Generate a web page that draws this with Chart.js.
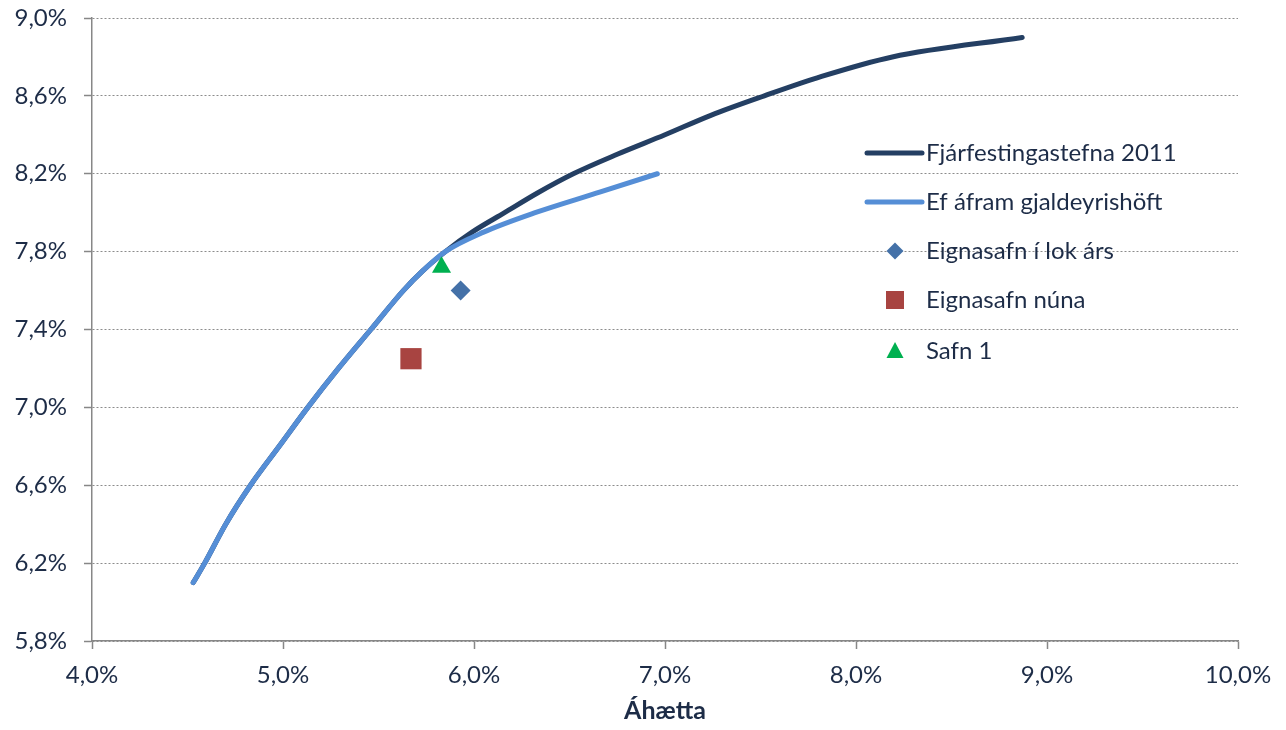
<!DOCTYPE html>
<html>
<head>
<meta charset="utf-8">
<script src="https://cdn.jsdelivr.net/npm/chart.js@4.4.1/dist/chart.umd.min.js"></script>
<style>
  html, body { margin: 0; padding: 0; background: #fff; }
  #wrap { width: 1286px; height: 730px; }
</style>
</head>
<body>
<div id="wrap"><canvas id="myChart" width="1286" height="730"></canvas></div>
<script>
// data (risk % / return %)
const riskPolicy = [4.53, 4.59, 4.70, 4.83, 4.98, 5.13, 5.29, 5.46, 5.63, 5.73, 5.85, 5.99, 6.16, 6.33, 6.52, 6.75, 7.00, 7.24, 7.52, 7.82, 8.19, 8.87];
const returnPolicy = [6.10, 6.20, 6.40, 6.60, 6.80, 7.00, 7.20, 7.40, 7.60, 7.70, 7.80, 7.90, 8.00, 8.10, 8.20, 8.30, 8.40, 8.50, 8.60, 8.70, 8.80, 8.90];
const riskCapital = [4.53, 4.59, 4.70, 4.83, 4.98, 5.13, 5.29, 5.46, 5.63, 5.73, 5.85, 6.05, 6.32, 6.64, 6.96];
const returnCapital = [6.10, 6.20, 6.40, 6.60, 6.80, 7.00, 7.20, 7.40, 7.60, 7.70, 7.80, 7.90, 8.00, 8.10, 8.20];
const portfolioYearEnd = [5.93, 7.60];
const portfolioNow = [5.67, 7.25];
const fund1 = [5.83, 7.72];

const seriesNames = ['Fjárfestingastefna 2011', 'Ef áfram gjaldeyrishöft', 'Eignasafn í lok árs', 'Eignasafn núna', 'Safn 1'];
const xTicks = [4, 5, 6, 7, 8, 9, 10];
const yTicks = [5.8, 6.2, 6.6, 7.0, 7.4, 7.8, 8.2, 8.6, 9.0];

const toPoints = (xs, ys) => xs.map((x, i) => ({ x: x, y: ys[i] }));
const pct = v => v.toFixed(1).replace('.', ',') + '%';

const textColor = '#1d2c47';
const fontFam = 'Lato, "Open Sans", sans-serif';
const fontSize = 24;

// legend drawn inside the plot, like the excel one
const legendPlugin = {
  id: 'insideLegend',
  afterDraw(chart) {
    const ctx = chart.ctx;
    const x0 = 867, x1 = 922, tx = 926;
    const rows = [153, 202, 251, 300, 351];
    ctx.save();
    ctx.font = fontSize + 'px ' + fontFam;
    ctx.textBaseline = 'middle';
    chart.data.datasets.forEach((ds, i) => {
      const y = rows[i];
      if (ds.showLine) {
        ctx.beginPath();
        ctx.strokeStyle = ds.borderColor;
        ctx.lineWidth = 5;
        ctx.lineCap = 'round';
        ctx.moveTo(x0, y);
        ctx.lineTo(x1, y);
        ctx.stroke();
      } else {
        const cx = (x0 + x1) / 2 + 0.5;
        ctx.fillStyle = ds.backgroundColor;
        ctx.beginPath();
        if (ds.pointStyle === 'rectRot') {
          ctx.moveTo(cx, y - 8.5); ctx.lineTo(cx + 8.5, y); ctx.lineTo(cx, y + 8.5); ctx.lineTo(cx - 8.5, y);
        } else if (ds.pointStyle === 'rect') {
          ctx.rect(cx - 9, y - 9, 18, 18);
        } else {
          ctx.moveTo(cx, y - 9); ctx.lineTo(cx + 8.5, y + 7); ctx.lineTo(cx - 8.5, y + 7);
        }
        ctx.closePath();
        ctx.fill();
      }
      ctx.fillStyle = textColor;
      ctx.fillText(ds.label, tx, y);
    });
    ctx.restore();
  }
};

const ctx1 = document.getElementById('myChart').getContext('2d');
const myChart = new Chart(ctx1, {
  type: 'scatter',
  data: {
    datasets: [
      {
        label: seriesNames[0],
        data: toPoints(riskPolicy, returnPolicy),
        showLine: true,
        borderColor: '#243f63',
        backgroundColor: '#243f63',
        borderWidth: 5,
        pointRadius: 0,
        cubicInterpolationMode: 'monotone',
        borderCapStyle: 'round',
        borderJoinStyle: 'round',
        order: 3,
      },
      {
        label: seriesNames[1],
        data: toPoints(riskCapital, returnCapital),
        showLine: true,
        borderColor: '#558ed6',
        backgroundColor: '#558ed6',
        borderWidth: 5,
        pointRadius: 0,
        cubicInterpolationMode: 'monotone',
        borderCapStyle: 'round',
        borderJoinStyle: 'round',
        order: 2,
      },
      {
        label: seriesNames[2],
        data: [{ x: portfolioYearEnd[0], y: portfolioYearEnd[1] }],
        showLine: false,
        pointStyle: 'rectRot',
        pointRadius: 10,
        backgroundColor: '#4471a8',
        borderColor: '#4471a8',
        borderWidth: 0,
        order: 1,
      },
      {
        label: seriesNames[3],
        data: [{ x: portfolioNow[0], y: portfolioNow[1] }],
        showLine: false,
        pointStyle: 'rect',
        pointRadius: 15,
        backgroundColor: '#a84441',
        borderColor: '#a84441',
        borderWidth: 0,
        order: 1,
      },
      {
        label: seriesNames[4],
        data: [{ x: fund1[0], y: fund1[1] }],
        showLine: false,
        pointStyle: 'triangle',
        pointRadius: 11,
        backgroundColor: '#00b050',
        borderColor: '#00b050',
        borderWidth: 0,
        order: 0,
      },
    ],
  },
  options: {
    responsive: false,
    animation: false,
    layout: { padding: { top: 18, right: 48, left: 0, bottom: 0 } },
    scales: {
      x: {
        type: 'linear',
        min: 4,
        max: 10,
        afterFit: s => { s.height = 89; s.paddingLeft = 0; s.paddingRight = 0; },
        afterBuildTicks: s => { s.ticks = xTicks.map(v => ({ value: v })); },
        ticks: {
          callback: v => pct(v),
          color: textColor,
          font: { family: fontFam, size: fontSize },
          padding: 12,
          maxRotation: 0,
        },
        grid: { drawOnChartArea: false, drawTicks: true, tickLength: 8, tickColor: '#878787', tickWidth: 1.5 },
        border: { color: '#878787', width: 1.5 },
        title: {
          display: true,
          text: 'Áhætta',
          color: textColor,
          font: { family: fontFam, size: 25, weight: 'bold' },
          padding: { top: 4 },
        },
      },
      y: {
        type: 'linear',
        min: 5.8,
        max: 9.0,
        afterFit: s => { s.width = 92; s.paddingTop = 0; s.paddingBottom = 0; },
        afterBuildTicks: s => { s.ticks = yTicks.map(v => ({ value: v })); },
        ticks: {
          callback: v => pct(v),
          color: textColor,
          font: { family: fontFam, size: fontSize },
          padding: 17,
        },
        grid: {
          color: '#8c8c8c',
          lineWidth: 1,
          tickLength: 8,
          tickColor: '#878787',
          tickWidth: 1.5,
          tickBorderDash: [],
        },
        border: { color: '#878787', width: 1.5, dash: [2, 2] },
      },
    },
    plugins: {
      legend: { display: false },
      tooltip: { enabled: false },
    },
  },
  plugins: [legendPlugin],
});
</script>
</body>
</html>
